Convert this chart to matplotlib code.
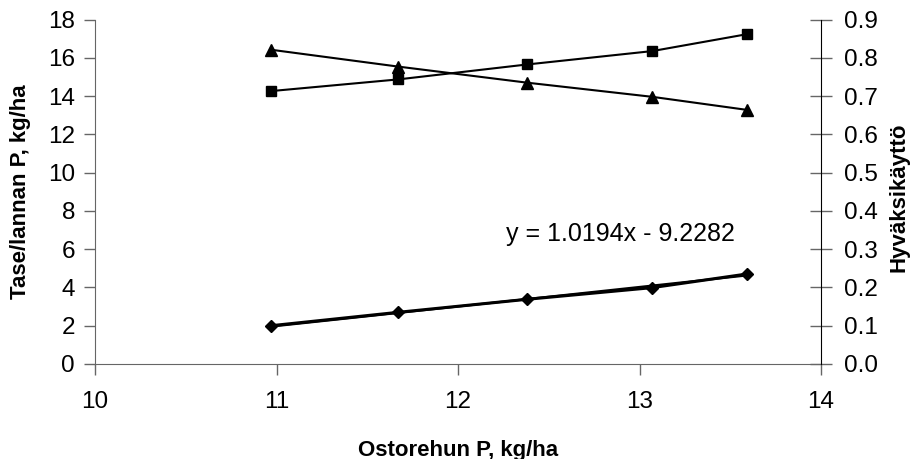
import numpy as np
import matplotlib
matplotlib.use("Agg")
from matplotlib import pyplot as plt

plt.rcParams['font.family'] = ['Liberation Sans', 'DejaVu Sans']

# ostorehun P, kg/ha
ostorehu = [10.97, 11.67, 12.38, 13.07, 13.59]
# tase (vasen akseli)
tase = [2.00, 2.70, 3.38, 3.99, 4.70]
# lannan P (vasen akseli)
lanta = [14.26, 14.87, 15.65, 16.35, 17.23]
# hyväksikäyttö (oikea akseli)
hyvaksi = [0.821, 0.777, 0.735, 0.698, 0.664]
# trendiviiva
slope, intercept = 1.0194, -9.2282

x_ticks = [10, 11, 12, 13, 14]
y_ticks = np.arange(0, 19, 2)
y2_ticks = np.arange(0, 0.91, 0.1)

fig = plt.figure(figsize=(9.13, 4.59), dpi=100)
ax = fig.add_axes([0.1041, 0.2070, 0.7952, 0.7505])
ax2 = ax.twinx()

axis_col = '#666666'

# lannan P
ax.plot(ostorehu, lanta, color='black', lw=1.5, marker='s', ms=7.7, zorder=3)
# tase + trendi
ax.plot(ostorehu, tase, color='black', lw=2.2, marker='D', ms=6.2, zorder=3)
xt = np.array([ostorehu[0], ostorehu[-1]])
ax.plot(xt, slope * xt + intercept, color='black', lw=1.6, zorder=2)
# hyväksikäyttö
ax2.plot(ostorehu, hyvaksi, color='black', lw=1.5, marker='^', ms=9, zorder=3)

ax.set_xlim(10, 14)
ax.set_ylim(0, 18)
ax2.set_ylim(0, 0.9)
ax.set_xticks(x_ticks)
ax.set_yticks(y_ticks)
ax2.set_yticks(y2_ticks)
ax2.set_yticklabels(['%.1f' % v for v in y2_ticks])

ax.spines['top'].set_visible(False)
ax2.spines['top'].set_visible(False)
ax.spines['right'].set_visible(False)
ax2.spines['left'].set_visible(False)
ax2.spines['bottom'].set_visible(False)
ax.spines['left'].set_color(axis_col)
ax.spines['bottom'].set_color(axis_col)
ax2.spines['right'].set_color('black')

ax.tick_params(axis='x', direction='out', length=8, width=1, color=axis_col,
               labelsize=17.5, pad=11.5)
ax.tick_params(axis='y', direction='out', length=8, width=1, color=axis_col,
               labelsize=17.5, pad=6.5)
ax2.tick_params(axis='y', direction='inout', length=16, width=1, color=axis_col,
                labelsize=17.5, pad=8.5)

fig.text(0.5016, 0.0196, 'Ostorehun P, kg/ha', fontsize=16, fontweight='bold',
         ha='center', va='center')
fig.text(0.023, 0.582, 'Tase/lannan P, kg/ha', fontsize=16, fontweight='bold',
         rotation=90, ha='center', va='center')
fig.text(0.985, 0.571, 'Hyväksikäyttö', fontsize=16, fontweight='bold',
         rotation=90, ha='center', va='center')
fig.text(0.805, 0.4756, 'y = 1.0194x - 9.2282', fontsize=18,
         ha='right', va='baseline')

fig.savefig('out.png', dpi=100)
